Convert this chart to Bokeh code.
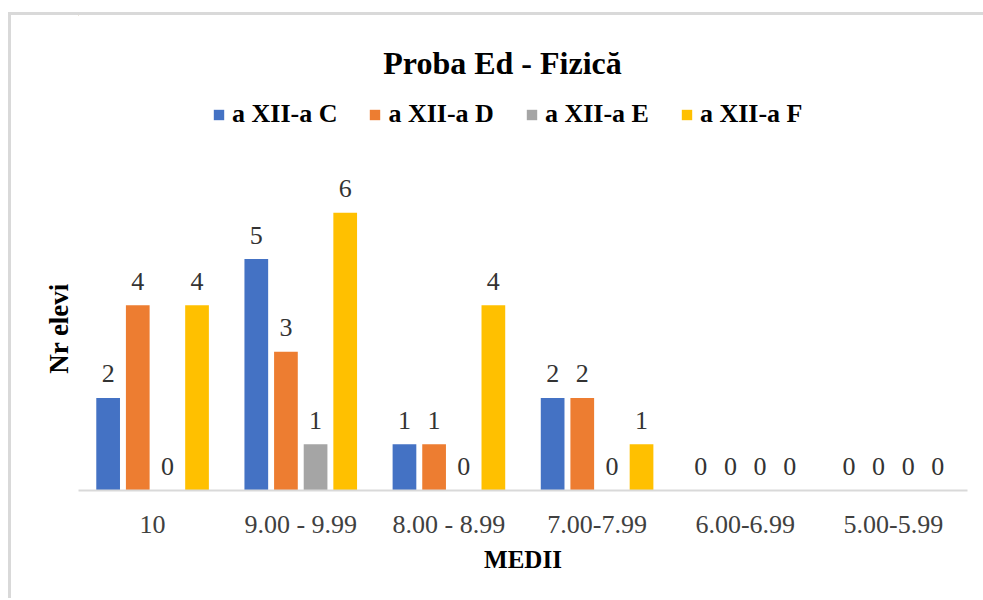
from bokeh.plotting import figure
from bokeh.layouts import column
from bokeh.models import (ColumnDataSource, Legend, LegendItem, FactorRange, Range1d,
                          FixedTicker)
from bokeh.transform import dodge
from bokeh.core.properties import value
from bokeh.embed import file_html
from bokeh.resources import INLINE

title_text = "Proba Ed - Fizică"
categories = ["10", "9.00 - 9.99", "8.00 - 8.99", "7.00-7.99", "6.00-6.99", "5.00-5.99"]
series_names = ["a XII-a C", "a XII-a D", "a XII-a E", "a XII-a F"]
vals_C = [2, 5, 1, 2, 0, 0]
vals_D = [4, 3, 1, 2, 0, 0]
vals_E = [0, 1, 0, 0, 0, 0]
vals_F = [4, 6, 4, 1, 0, 0]
colors = ["#4472C4", "#ED7D31", "#A5A5A5", "#FFC000"]
offsets = [-0.3, -0.1, 0.1, 0.3]

FONT = "Liberation Serif"
BORDER = "#d9d9d9"
W = 972
ML, MR = 67, 16

# ---------- header: title + legend (frame spans x 78..967, y 15..135 of the page) ----------
top = figure(width=W, height=120, output_backend="svg", toolbar_location=None,
             x_range=Range1d(78, 967), y_range=Range1d(135, 15),
             x_axis_location=None, y_axis_location=None,
             min_border_left=ML, min_border_right=MR, min_border_top=0, min_border_bottom=0)
top.outline_line_color = None
top.grid.grid_line_color = None
top.background_fill_color = "white"
top.border_fill_color = "white"
top.text(x=[502], y=[62], text=[title_text], text_align="center", text_baseline="alphabetic",
         text_font=value(FONT), text_font_size="32px", text_font_style="bold",
         text_color="black")

leg_items = []
for name, col in zip(series_names, colors):
    r = top.vbar(x=[0], top=[0], width=1, fill_color=col, line_color=None)
    leg_items.append(LegendItem(label=name, renderers=[r]))
legend = Legend(items=leg_items, orientation="horizontal", location=(134, 6),
                label_text_font=FONT, label_text_font_size="26px", label_text_font_style="bold",
                label_text_color="black", glyph_width=13, glyph_height=13, label_standoff=7,
                spacing=31, padding=0, margin=0, border_line_color=None,
                background_fill_alpha=0)
top.add_layout(legend)

# ---------- chart ----------
src = ColumnDataSource(dict(cat=categories, C=vals_C, D=vals_D, E=vals_E, F=vals_F,
                            lC=[str(v) for v in vals_C], lD=[str(v) for v in vals_D],
                            lE=[str(v) for v in vals_E], lF=[str(v) for v in vals_F]))

p = figure(x_range=FactorRange(*categories, range_padding=0), y_range=(0, 7),
           width=W, height=463, output_backend="svg", toolbar_location=None,
           min_border_left=ML, min_border_right=MR, min_border_top=31, min_border_bottom=108)
p.outline_line_color = None
p.grid.grid_line_color = None
p.background_fill_color = "white"
p.border_fill_color = "white"

for key, col, off in zip(["C", "D", "E", "F"], colors, offsets):
    p.vbar(x=dodge("cat", off, range=p.x_range), top=key, width=0.16, source=src,
           fill_color=col, line_color=None)
    p.text(x=dodge("cat", off, range=p.x_range), y=key, text="l" + key, source=src,
           text_align="center", text_baseline="alphabetic", y_offset=-24,
           text_font=value(FONT), text_font_size="26px", text_color="#333333")

xa = p.xaxis[0]
xa.axis_line_color = BORDER
xa.axis_line_width = 2
xa.major_tick_line_color = None
xa.minor_tick_line_color = None
xa.major_label_text_font = FONT
xa.major_label_text_font_size = "26px"
xa.major_label_text_color = "#404040"
xa.major_label_standoff = 13
xa.axis_label = "MEDII"
xa.axis_label_text_font = FONT
xa.axis_label_text_font_size = "25px"
xa.axis_label_text_font_style = "bold"
xa.axis_label_text_color = "black"
xa.axis_label_standoff = 4

ya = p.yaxis[0]
ya.ticker = FixedTicker(ticks=[])
ya.axis_line_color = None
ya.major_tick_line_color = None
ya.minor_tick_line_color = None
ya.major_label_standoff = 0
ya.major_tick_out = 0
ya.major_tick_in = 0
ya.axis_label = "Nr elevi"
ya.axis_label_text_font = FONT
ya.axis_label_text_font_size = "27px"
ya.axis_label_text_font_style = "bold"
ya.axis_label_text_color = "black"
ya.axis_label_standoff = 5

layout = column(top, p, spacing=0)
layout.styles = {"border-left": "3px solid " + BORDER, "border-top": "3px solid " + BORDER,
                 "margin-left": "8px", "margin-top": "12px"}
open("out.html", "w").write(file_html(layout, INLINE))
